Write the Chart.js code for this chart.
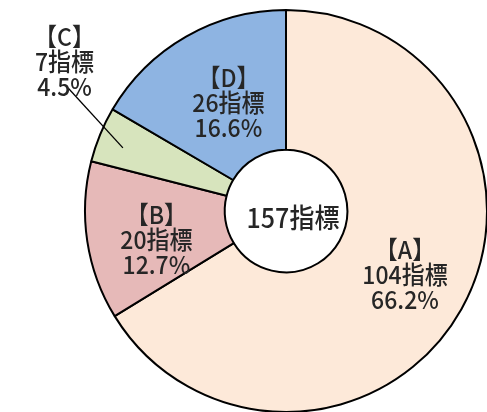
<!DOCTYPE html>
<html>
<head>
<meta charset="utf-8">
<script src="https://cdn.jsdelivr.net/npm/chart.js@4/dist/chart.umd.min.js"></script>
<style>
html,body{margin:0;padding:0;background:#fff;}
#wrap{width:487px;height:412px;}
</style>
</head>
<body>
<div id="wrap"><canvas id="c" width="487" height="412"></canvas></div>
<script>
const categories = ['【A】', '【B】', '【C】', '【D】'];
const counts = [104, 20, 7, 26];
const percents = ['66.2%', '12.7%', '4.5%', '16.6%'];
const totalLabel = '157指標';
const unit = '指標';
const colors = ['#FDE9D9', '#E6B9B8', '#D7E4BD', '#8EB4E2'];

const FONT = '"Noto Sans CJK JP", "Noto Sans", sans-serif';
// label placement relative to each arc: radius factor & angle offset (deg)
const placement = [
  {rf: 0.67, da: -1.3},
  {rf: 0.66, da: -3.8},
  {rf: 1.33, da: 11.7, leader: true},
  {rf: 0.61, da: 1.8}
];

function drawStretched(ctx, text, x, y, sy) {
  ctx.save();
  ctx.translate(x, y);
  ctx.scale(1, sy);
  ctx.fillText(text, 0, 0);
  ctx.restore();
}

const labelPlugin = {
  id: 'labels',
  afterDatasetsDraw(chart) {
    const ctx = chart.ctx;
    const meta = chart.getDatasetMeta(0);
    ctx.save();
    ctx.fillStyle = '#262626';
    ctx.textAlign = 'center';
    ctx.textBaseline = 'middle';
    meta.data.forEach((arc, i) => {
      const p = arc.getProps(['x','y','startAngle','endAngle','outerRadius','innerRadius'], true);
      const mid = (p.startAngle + p.endAngle) / 2;
      const pl = placement[i];
      const a = mid + pl.da * Math.PI / 180;
      const r = p.outerRadius * pl.rf;
      const cx = p.x + Math.cos(a) * r;
      const cy = p.y + Math.sin(a) * r;
      if (pl.leader) {
        ctx.strokeStyle = '#000';
        ctx.lineWidth = 1.3;
        const a2 = mid + (209.4 - 202.3) * Math.PI / 180;
        ctx.beginPath();
        ctx.moveTo(p.x + Math.cos(mid - 1.2*Math.PI/180) * p.outerRadius * 0.87, p.y + Math.sin(mid - 1.2*Math.PI/180) * p.outerRadius * 0.87);
        ctx.lineTo(p.x + Math.cos(a2) * p.outerRadius * 1.245, p.y + Math.sin(a2) * p.outerRadius * 1.245);
        ctx.stroke();
      }
      const lines = [categories[i], counts[i] + unit, percents[i]];
      ctx.font = '500 23px ' + FONT;
      const lh = 25;
      lines.forEach((t, k) => {
        drawStretched(ctx, t, cx, cy + (k - 1) * lh, 1.08);
      });
    });
    // center total
    const a0 = meta.data[0];
    ctx.font = '500 25px ' + FONT;
    drawStretched(ctx, totalLabel, a0.x + 7, a0.y + 7, 1.08);
    ctx.restore();
  }
};

new Chart(document.getElementById('c'), {
  type: 'doughnut',
  data: {
    labels: categories,
    datasets: [{
      data: counts,
      backgroundColor: colors,
      borderColor: '#000',
      borderWidth: 2,
      borderAlign: 'center'
    }]
  },
  options: {
    responsive: false,
    animation: false,
    radius: 201,
    cutout: 61,
    layout: {padding: {left: 85, right: 0, top: 10, bottom: 0}},
    plugins: {legend: {display: false}, tooltip: {enabled: false}}
  },
  plugins: [labelPlugin]
});
</script>
</body>
</html>
